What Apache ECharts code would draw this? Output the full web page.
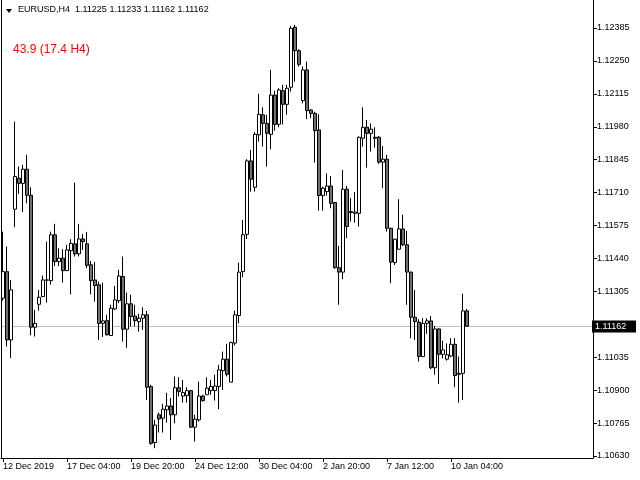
<!DOCTYPE html>
<html><head><meta charset="utf-8">
<script src="https://cdn.jsdelivr.net/npm/echarts@6/dist/echarts.min.js"></script>
<style>html,body{margin:0;padding:0;background:#fff}#c{width:640px;height:480px}</style>
</head><body><div id="c"></div>
<script>
const symbolName = "EURUSD,H4";
const headerValues = ["1.11225", "1.11233", "1.11162", "1.11162"];
const indicatorText = "43.9 (17.4 H4)";
const xTickLabels = ["12 Dec 2019","17 Dec 04:00","19 Dec 20:00","24 Dec 12:00","30 Dec 04:00","2 Jan 20:00","7 Jan 12:00","10 Jan 04:00"];
const xTickBars = [0,16,32,48,64,80,96,112];
const totalSlots = 148;
const yTickValues = [1.10630,1.10765,1.10900,1.11035,1.11305,1.11440,1.11575,1.11710,1.11845,1.11980,1.12115,1.12250,1.12385];
const yMin = 1.106218, yMax = 1.124998;

const opens = [
1.11277,1.11386,1.11106,1.11642,1.11769,1.11748,1.11806,1.11699,1.11158,1.11252,
1.11284,1.11351,1.11349,1.11537,1.11427,1.11441,1.11390,1.11472,1.11500,1.11459,
1.11520,1.11500,1.11414,1.11352,1.11332,1.11174,1.11185,1.11124,1.11233,1.11267,
1.11366,1.11150,1.11254,1.11204,1.11181,1.11195,1.11209,1.10915,1.10685,1.10799,
1.10785,1.10819,1.10835,1.10799,1.10910,1.10876,1.10878,1.10898,1.10748,1.10778,
1.10876,1.10881,1.10898,1.10898,1.10915,1.10980,1.11027,1.10933,1.11093,1.11206,
1.11386,1.11539,1.11840,1.11732,1.11947,1.12029,1.11994,1.11949,1.12110,1.11990,
1.12128,1.12072,1.12142,1.12388,1.12292,1.12087,1.12213,1.12049,1.12035,1.11967,
1.11698,1.11714,1.11737,1.11669,1.11402,1.11384,1.11724,1.11632,1.11625,1.11625,
1.11933,1.11978,1.11953,1.11937,1.11937,1.11835,1.11847,1.11564,1.11423,1.11478,
1.11561,1.11496,1.11384,1.11199,1.11179,1.11038,1.11174,1.11184,1.10992,1.11151,
1.11047,1.11027,1.11040,1.11088,1.10965,1.10969,1.11225];
const highs = [
1.11550,1.11489,1.11352,1.12001,1.11817,1.11824,1.11865,1.11732,1.11229,1.11311,
1.11370,1.11509,1.11550,1.11582,1.11482,1.11478,1.11496,1.11519,1.11751,1.11582,
1.11541,1.11549,1.11430,1.11426,1.11345,1.11341,1.11209,1.11250,1.11327,1.11393,
1.11448,1.11300,1.11291,1.11250,1.11213,1.11240,1.11225,1.10922,1.10778,1.10808,
1.10844,1.10889,1.10868,1.10956,1.10953,1.10942,1.10912,1.10901,1.10799,1.10935,
1.10881,1.10953,1.10942,1.10963,1.11004,1.11058,1.11090,1.11099,1.11226,1.11423,
1.11598,1.11847,1.11885,1.11958,1.12115,1.12060,1.12029,1.12213,1.12128,1.12138,
1.12152,1.12152,1.12393,1.12398,1.12298,1.12227,1.12247,1.12052,1.12042,1.12031,
1.11735,1.11789,1.11778,1.11672,1.11491,1.11803,1.11737,1.11687,1.11712,1.11940,
1.12060,1.12008,1.11994,1.11978,1.11942,1.11901,1.11865,1.11566,1.11521,1.11683,
1.11619,1.11553,1.11386,1.11311,1.11191,1.11195,1.11195,1.11204,1.11163,1.11154,
1.11103,1.11092,1.11113,1.11113,1.11038,1.11295,1.11233];
const lows = [
1.11267,1.11079,1.11031,1.11568,1.11705,1.11630,1.11666,1.11125,1.11120,1.11226,
1.11281,1.11259,1.11332,1.11409,1.11409,1.11341,1.11390,1.11293,1.11448,1.11448,
1.11475,1.11400,1.11293,1.11263,1.11106,1.11118,1.11124,1.11124,1.11229,1.11257,
1.11099,1.11074,1.11161,1.11161,1.11140,1.11147,1.10860,1.10676,1.10662,1.10726,
1.10726,1.10767,1.10696,1.10764,1.10874,1.10849,1.10849,1.10745,1.10689,1.10771,
1.10853,1.10881,1.10881,1.10857,1.10822,1.10901,1.10956,1.10933,1.11083,1.11174,
1.11363,1.11520,1.11714,1.11714,1.11919,1.11899,1.11817,1.11888,1.11964,1.11978,
1.11990,1.12029,1.12124,1.12165,1.12227,1.12076,1.12011,1.12015,1.11833,1.11636,
1.11636,1.11698,1.11646,1.11398,1.11250,1.11355,1.11523,1.11591,1.11587,1.11571,
1.11899,1.11812,1.11878,1.11894,1.11828,1.11728,1.11550,1.11338,1.11413,1.11475,
1.11491,1.11250,1.11113,1.11106,1.11017,1.11035,1.11131,1.10986,1.10963,1.10926,
1.11031,1.11021,1.11035,1.10912,1.10849,1.10860,1.11162];
const closes = [
1.11386,1.11106,1.11311,1.11776,1.11748,1.11806,1.11699,1.11158,1.11174,1.11281,
1.11352,1.11352,1.11537,1.11427,1.11441,1.11390,1.11475,1.11502,1.11459,1.11520,
1.11509,1.11412,1.11349,1.11329,1.11174,1.11184,1.11127,1.11236,1.11270,1.11368,
1.11150,1.11254,1.11202,1.11185,1.11195,1.11209,1.10912,1.10682,1.10757,1.10782,
1.10822,1.10835,1.10799,1.10910,1.10894,1.10890,1.10898,1.10748,1.10781,1.10876,
1.10857,1.10908,1.10915,1.10917,1.10983,1.11027,1.10965,1.11095,1.11209,1.11384,
1.11537,1.11840,1.11765,1.11949,1.12031,1.11994,1.11953,1.12110,1.11990,1.12131,
1.12072,1.12138,1.12384,1.12292,1.12236,1.12213,1.12046,1.12035,1.11964,1.11698,
1.11728,1.11737,1.11666,1.11402,1.11384,1.11724,1.11571,1.11628,1.11630,1.11937,
1.11978,1.11953,1.11970,1.11933,1.11835,1.11847,1.11564,1.11425,1.11519,1.11561,
1.11496,1.11384,1.11199,1.11181,1.11038,1.11174,1.11184,1.10992,1.11151,1.11047,
1.11065,1.11045,1.11088,1.10960,1.10969,1.11225,1.11162];

const categories = [];
for (let i = 0; i < totalSlots; i++) categories.push(String(i));
const ohlc = opens.map((o, i) => [o, closes[i], lows[i], highs[i]]);
const lastClose = closes[closes.length - 1];
const FONT = 'Liberation Sans, Arial, sans-serif';

const chart = echarts.init(document.getElementById('c'), null, {renderer: 'canvas'});
chart.setOption({
  animation: false,
  backgroundColor: '#ffffff',
  grid: {left: 1, top: 0, width: 592, height: 458, containLabel: false},
  xAxis: {
    type: 'category', data: categories, boundaryGap: true,
    axisLine: {show: true, lineStyle: {color: '#000', width: 1}},
    axisTick: {show: true, alignWithLabel: true, length: 4, lineStyle: {color: '#000'},
      interval: (idx) => xTickBars.indexOf(idx) >= 0},
    axisLabel: {show: true, interval: (idx) => xTickBars.indexOf(idx) >= 0,
      formatter: (v, idx) => { const k = xTickBars.indexOf(idx); return k >= 0 ? xTickLabels[k] : ''; },
      align: 'left', margin: 4, color: '#000', fontSize: 9, fontFamily: FONT},
    splitLine: {show: false}
  },
  yAxis: [{
    type: 'value', position: 'right', min: yMin, max: yMax,
    axisLine: {show: true, lineStyle: {color: '#000', width: 1}},
    axisTick: {show: true, length: 4, lineStyle: {color: '#000'}, customValues: yTickValues},
    axisLabel: {show: true, margin: 4, color: '#000', fontSize: 9, fontFamily: FONT,
      customValues: yTickValues, formatter: (v) => v.toFixed(5)},
    splitLine: {show: false}
  }, {
    type: 'value', position: 'left', min: yMin, max: yMax,
    axisLine: {show: true, lineStyle: {color: '#000', width: 1}},
    axisTick: {show: false}, axisLabel: {show: false}, splitLine: {show: false}
  }],
  series: [{
    type: 'candlestick', data: ohlc, z: 3, barWidth: 3, yAxisIndex: 0,
    itemStyle: {color: '#ffffff', color0: '#707070', borderColor: '#000000', borderColor0: '#000000', borderWidth: 1}
  }],
  graphic: [
    {type: 'polygon', shape: {points: [[6, 9], [12, 9], [9, 13]]}, style: {fill: '#000'}},
    {type: 'text', left: 18, top: 5, style: {text: symbolName + '  ' + headerValues.join(' '), fill: '#000', font: '9px ' + FONT}},
    {type: 'text', left: 13, top: 44, style: {text: indicatorText, fill: '#ff0000', font: '12px ' + FONT}}
  ]
});

// current-price line and label, positioned through the y axis scale
const py = Math.round(chart.convertToPixel({yAxisIndex: 0}, lastClose)) + 0.5;
const gridRight = 593;
chart.setOption({
  graphic: [
    {type: 'polygon', shape: {points: [[6, 9], [12, 9], [9, 13]]}, style: {fill: '#000'}},
    {type: 'text', left: 18, top: 5, style: {text: symbolName + '  ' + headerValues.join(' '), fill: '#000', font: '9px ' + FONT}},
    {type: 'text', left: 13, top: 44, style: {text: indicatorText, fill: '#ff0000', font: '12px ' + FONT}},
    {type: 'line', z: -10, shape: {x1: 1, y1: py, x2: gridRight, y2: py}, style: {stroke: '#c0c0c0', lineWidth: 1}},
    {type: 'rect', z: 10, shape: {x: gridRight - 1, y: py - 6, width: 44, height: 12}, style: {fill: '#000'}},
    {type: 'text', z: 11, x: gridRight + 2, y: py, style: {text: lastClose.toFixed(5), fill: '#fff', font: '9px ' + FONT, textVerticalAlign: 'middle', verticalAlign: 'middle'}}
  ]
}, {replaceMerge: ['graphic']});
</script></body></html>
